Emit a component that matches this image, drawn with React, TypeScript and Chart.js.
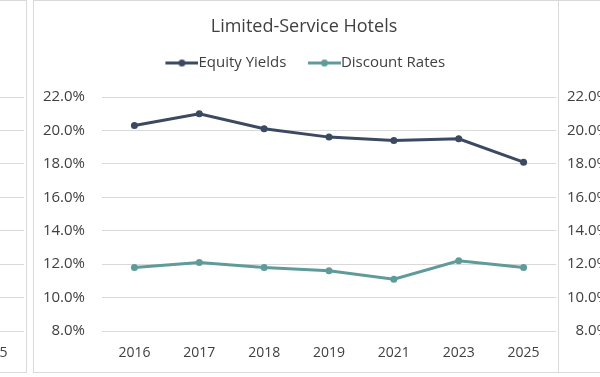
import React, { useEffect, useRef } from "react";
import { Chart, registerables } from "chart.js";

Chart.register(...registerables);

// ---------- data ----------
const categories = ["2016", "2017", "2018", "2019", "2021", "2023", "2025"];
const equityYields = [20.3, 21.0, 20.1, 19.6, 19.4, 19.5, 18.1];
const discountRates = [11.8, 12.1, 11.8, 11.6, 11.1, 12.2, 11.8];
const yMin = 8;
const yMax = 22;
const yStep = 2;
const seriesNames = ["Equity Yields", "Discount Rates"];
const seriesColors = ["#3B4A61", "#5F9B9B"];
const titleText = "Limited-Service Hotels";

const FONT = "'Open Sans', 'Noto Sans', sans-serif";
const TEXT = "#404040";
const GRID = "#D9D9D9";

const PANEL_W = 524;
const PANEL_H = 371;
const CANVAS_W = 536;
const CANVAS_H = 371;

const LEGEND_FONT = 15;
const LEGEND_BOX = 28;

function makeLegendMarker(color: string): HTMLCanvasElement {
  // image is centred on the legend box; its right edge touches the label text
  const w = LEGEND_BOX + LEGEND_FONT;
  const c = document.createElement("canvas");
  c.width = w;
  c.height = 9;
  const ctx = c.getContext("2d")!;
  ctx.strokeStyle = color;
  ctx.lineWidth = 3;
  ctx.beginPath();
  ctx.moveTo(w - 33, 4.5);
  ctx.lineTo(w, 4.5);
  ctx.stroke();
  ctx.fillStyle = color;
  ctx.beginPath();
  ctx.arc(w - 16.5, 4.5, 3.5, 0, Math.PI * 2);
  ctx.fill();
  return c;
}

function buildConfig(withContent: boolean): any {
  const markers = seriesColors.map(makeLegendMarker);
  const datasets = withContent
    ? [equityYields, discountRates].map((d, i) => ({
        label: seriesNames[i],
        data: d,
        borderColor: seriesColors[i],
        backgroundColor: seriesColors[i],
        borderWidth: 3,
        pointRadius: 3.5,
        pointHoverRadius: 3.5,
        pointBackgroundColor: seriesColors[i],
        pointBorderWidth: 0,
        tension: 0,
        xAxisID: "x",
        yAxisID: "y",
      }))
    : [];
  return {
    type: "line",
    data: { labels: categories, datasets },
    options: {
      responsive: false,
      animation: false,
      events: [],
      layout: {
        padding: { left: 4, right: 0, top: withContent ? 0 : 96, bottom: 10 },
      },
      plugins: {
        tooltip: { enabled: false },
        title: {
          display: withContent,
          text: titleText,
          color: TEXT,
          font: { family: FONT, size: 18, weight: "normal", lineHeight: 1 },
          padding: { top: 17, bottom: 0.5 },
        },
        legend: {
          display: withContent,
          position: "top",
          align: "center",
          labels: {
            color: TEXT,
            font: { family: FONT, size: LEGEND_FONT },
            usePointStyle: true,
            pointStyleWidth: LEGEND_BOX,
            padding: 19,
            generateLabels: (chart: any) => {
              const items = (Chart as any).defaults.plugins.legend.labels.generateLabels(chart);
              items.forEach((it: any, i: number) => {
                it.pointStyle = markers[i];
              });
              return items;
            },
          },
        },
      },
      scales: {
        spacer: {
          type: "category",
          position: "top",
          display: withContent,
          grid: { display: false },
          border: { display: false },
          ticks: { display: false },
          afterFit: (s: any) => {
            s.height = withContent ? 16.5 : 0;
          },
        },
        x: {
          type: "category",
          position: "bottom",
          display: true,
          offset: true,
          grid: { display: false, drawTicks: false },
          border: { display: false },
          ticks: {
            color: TEXT,
            font: { family: FONT, size: 14 },
            padding: 14,
            maxRotation: 0,
            autoSkip: false,
          },
          afterFit: (s: any) => {
            s.height = 31;
          },
        },
        y: {
          type: "linear",
          position: "left",
          display: true,
          min: yMin,
          max: yMax,
          grid: { color: GRID, lineWidth: 1, drawTicks: false },
          border: { display: false },
          ticks: {
            stepSize: yStep,
            color: TEXT,
            font: { family: FONT, size: 15 },
            padding: 17,
            callback: (v: any) => Number(v).toFixed(1) + "%",
          },
          afterFit: (s: any) => {
            s.width = 64;
          },
        },
        rightSpacer: {
          type: "linear",
          position: "right",
          display: true,
          grid: { display: false },
          border: { display: false },
          ticks: { display: false },
          afterFit: (s: any) => {
            s.width = 14;
          },
        },
      },
    },
  };
}

function Panel({ left, withContent }: { left: number; withContent: boolean }) {
  const ref = useRef<HTMLCanvasElement | null>(null);
  useEffect(() => {
    if (!ref.current) return;
    const chart = new Chart(ref.current, buildConfig(withContent));
    return () => chart.destroy();
  }, [withContent]);
  return (
    <div
      style={{
        position: "absolute",
        left,
        top: 0,
        width: PANEL_W,
        height: PANEL_H,
        border: `1px solid ${GRID}`,
        background: "#fff",
        overflow: "hidden",
      }}
    >
      <canvas ref={ref} width={CANVAS_W} height={CANVAS_H} style={{ display: "block" }} />
    </div>
  );
}

export default function App() {
  return (
    <div
      style={{
        position: "absolute",
        left: 0,
        top: 0,
        width: 600,
        height: 377,
        overflow: "hidden",
        background: "#fff",
      }}
    >
      <Panel left={-499} withContent={false} />
      <Panel left={557} withContent={false} />
      <Panel left={33} withContent={true} />
    </div>
  );
}
